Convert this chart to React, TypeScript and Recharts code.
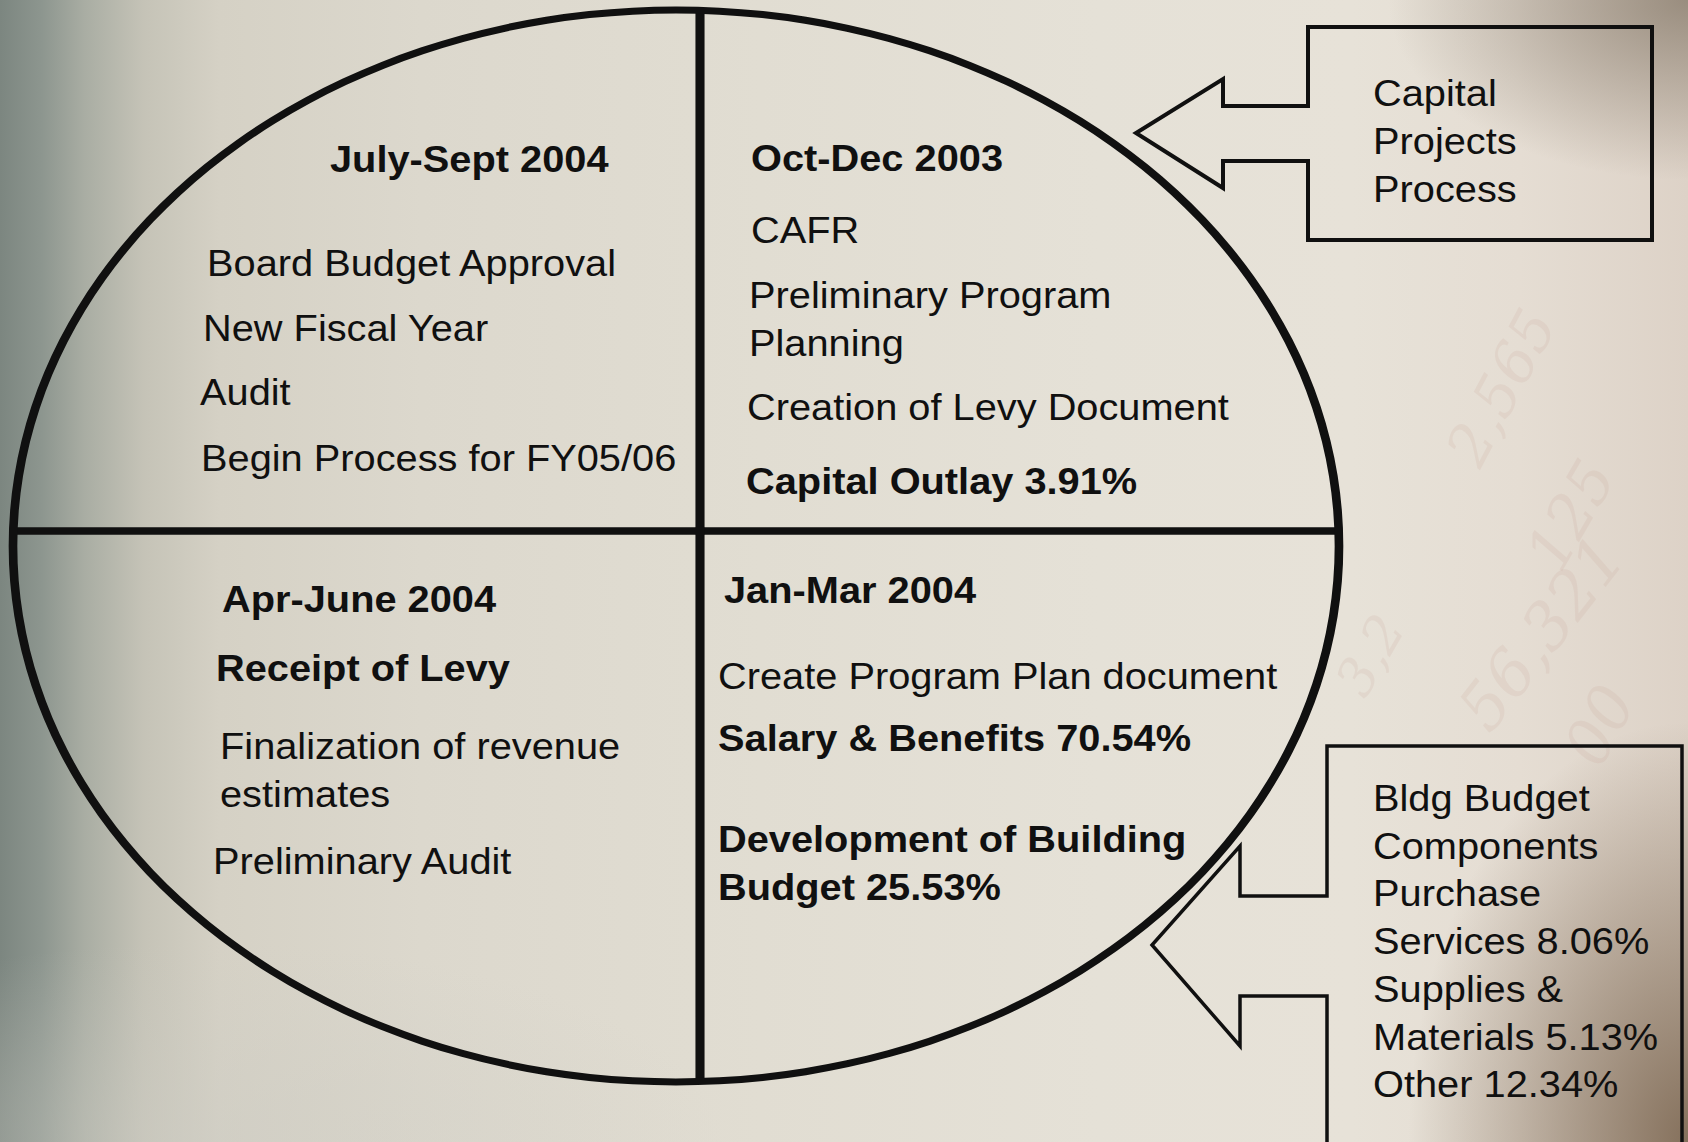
import React from 'react';
import { PieChart, Pie, Cell } from 'recharts';

// the fiscal cycle, clockwise from the top right quadrant
const QUARTERS = ['Oct-Dec 2003', 'Jan-Mar 2004', 'Apr-June 2004', 'July-Sept 2004'];
const QUARTER_MONTHS = [3, 3, 3, 3];

const OCT_DEC_ITEMS = ['CAFR', 'Preliminary Program', 'Planning', 'Creation of Levy Document'];
const OCT_DEC_SHARE = 'Capital Outlay 3.91%';
const JAN_MAR_ITEMS = ['Create Program Plan document'];
const JAN_MAR_SHARES = ['Salary & Benefits 70.54%', 'Development of Building', 'Budget 25.53%'];
const APR_JUN_BOLD = 'Receipt of Levy';
const APR_JUN_ITEMS = ['Finalization of revenue', 'estimates', 'Preliminary Audit'];
const JUL_SEP_ITEMS = ['Board Budget Approval', 'New Fiscal Year', 'Audit', 'Begin Process for FY05/06'];

const CAPITAL_CALLOUT = ['Capital', 'Projects', 'Process'];
const BLDG_CALLOUT = [
  'Bldg Budget',
  'Components',
  'Purchase',
  'Services 8.06%',
  'Supplies &',
  'Materials 5.13%',
  'Other 12.34%',
];

const BG_DIGITS = ['2,565', '125', '56,321', '3,2', '00'];

const quarterData = QUARTERS.map((name, i) => ({ name, value: QUARTER_MONTHS[i] }));
const yearData = [{ name: 'FY', value: 12 }];

const FONT = "'Liberation Sans', Arial, Helvetica, sans-serif";
const INK = '#101010';

// ellipse centre on the page and its radii; the cross sits a little off centre
const EX = 676;
const EY = 546;
const RX = 663;
const RY = 536;
const SX = RX / RY;
const BOX = 1080;
const CROSS_X = BOX / 2 + (700 - EX) / SX;
const CROSS_Y = BOX / 2 + (531 - EY);

type Line = { text: string; x: number; y: number; bold?: boolean };

const Quadrants = () => (
  <div
    style={{
      position: 'absolute',
      left: EX - BOX / 2,
      top: EY - BOX / 2,
      width: BOX,
      height: BOX,
      transform: `scaleX(${SX})`,
      transformOrigin: '50% 50%',
    }}
  >
    <PieChart width={BOX} height={BOX} margin={{ top: 0, right: 0, bottom: 0, left: 0 }}>
      <defs>
        <clipPath id="insideYear">
          <circle cx={BOX / 2} cy={BOX / 2} r={RY - 1} />
        </clipPath>
      </defs>
      <Pie
        data={quarterData}
        dataKey="value"
        nameKey="name"
        cx={CROSS_X}
        cy={CROSS_Y}
        innerRadius={0}
        outerRadius={720}
        startAngle={90}
        endAngle={-270}
        fill="transparent"
        stroke={INK}
        strokeWidth={7}
        isAnimationActive={false}
      >
        {quarterData.map((d) => (
          <Cell
            key={d.name}
            fill="transparent"
            stroke={INK}
            strokeWidth={7}
            vectorEffect="non-scaling-stroke"
            clipPath="url(#insideYear)"
          />
        ))}
      </Pie>
      <Pie
        data={yearData}
        dataKey="value"
        nameKey="name"
        cx={BOX / 2}
        cy={BOX / 2}
        innerRadius={RY - 3.5}
        outerRadius={RY + 3.5}
        startAngle={90}
        endAngle={-270}
        fill={INK}
        stroke="none"
        isAnimationActive={false}
      />
    </PieChart>
  </div>
);

const Txt = ({ l, size = 37 }: { l: Line; size?: number }) => (
  <text
    transform={`translate(${l.x} ${l.y}) scale(1.075 1)`}
    fontFamily={FONT}
    fontSize={size}
    fontWeight={l.bold ? 700 : 400}
    fill={INK}
  >
    {l.text}
  </text>
);

export default function App() {
  const quadrantLines: Line[] = [
    { text: QUARTERS[3], x: 330, y: 172, bold: true },
    { text: JUL_SEP_ITEMS[0], x: 207, y: 276 },
    { text: JUL_SEP_ITEMS[1], x: 203, y: 341 },
    { text: JUL_SEP_ITEMS[2], x: 200, y: 405 },
    { text: JUL_SEP_ITEMS[3], x: 201, y: 471 },

    { text: QUARTERS[0], x: 751, y: 171, bold: true },
    { text: OCT_DEC_ITEMS[0], x: 751, y: 243 },
    { text: OCT_DEC_ITEMS[1], x: 749, y: 308 },
    { text: OCT_DEC_ITEMS[2], x: 749, y: 356 },
    { text: OCT_DEC_ITEMS[3], x: 747, y: 420 },
    { text: OCT_DEC_SHARE, x: 746, y: 494, bold: true },

    { text: QUARTERS[2], x: 222, y: 612, bold: true },
    { text: APR_JUN_BOLD, x: 216, y: 681 },
    { text: APR_JUN_ITEMS[0], x: 220, y: 759 },
    { text: APR_JUN_ITEMS[1], x: 220, y: 807 },
    { text: APR_JUN_ITEMS[2], x: 213, y: 874 },

    { text: QUARTERS[1], x: 724, y: 603, bold: true },
    { text: JAN_MAR_ITEMS[0], x: 718, y: 689 },
    { text: JAN_MAR_SHARES[0], x: 718, y: 751, bold: true },
    { text: JAN_MAR_SHARES[1], x: 718, y: 852, bold: true },
    { text: JAN_MAR_SHARES[2], x: 718, y: 900, bold: true },
  ];
  quadrantLines[12].bold = true;

  const digitSpots = [
    { x: 1480, y: 470, r: -62, s: 58 },
    { x: 1560, y: 575, r: -60, s: 60 },
    { x: 1490, y: 735, r: -52, s: 64 },
    { x: 1365, y: 700, r: -60, s: 52 },
    { x: 1600, y: 770, r: -62, s: 62 },
  ];

  return (
    <div
      style={{
        position: 'absolute',
        left: 0,
        top: 0,
        width: 1688,
        height: 1142,
        overflow: 'hidden',
        background: [
          'radial-gradient(ellipse 300px 180px at 100% 0%, rgba(125,112,96,0.7), rgba(125,112,96,0) 100%)',
          'radial-gradient(ellipse 280px 420px at 100% 100%, rgba(118,96,74,0.85), rgba(118,96,74,0) 100%)',
          'radial-gradient(ellipse 520px 200px at 12% 100%, rgba(205,204,196,0.5), rgba(205,204,196,0) 100%)',
          'linear-gradient(90deg, #7c8680 0%, #8d968f 2.5%, #a9ada3 5%, #c5c3b7 8.5%, #d5d1c5 13%, #dcd8cd 25%, #e1ddd2 45%, #e5e1d7 65%, #e7e2d8 80%, #e5ddd3 90%, #ddd2c7 100%)',
        ].join(', '),
      }}
    >
      <svg width={1688} height={1142} style={{ position: 'absolute', left: 0, top: 0 }}>
        {BG_DIGITS.map((d, i) => (
          <text
            key={d + i}
            transform={`translate(${digitSpots[i].x} ${digitSpots[i].y}) rotate(${digitSpots[i].r})`}
            fontFamily="'DejaVu Serif', serif"
            fontStyle="italic"
            fontSize={digitSpots[i].s}
            fill="#c49a8e"
            opacity={0.14}
          >
            {d}
          </text>
        ))}
      </svg>

      <Quadrants />

      <svg width={1688} height={1142} style={{ position: 'absolute', left: 0, top: 0 }}>
        {quadrantLines.map((l) => (
          <Txt key={l.text} l={l} />
        ))}

        <polygon
          points="1308,27 1652,27 1652,240 1308,240 1308,161 1223,161 1223,188 1136,133 1223,79 1223,106 1308,106"
          fill="none"
          stroke={INK}
          strokeWidth={4}
        />
        {CAPITAL_CALLOUT.map((t, i) => (
          <Txt key={t} l={{ text: t, x: 1373, y: 106 + i * 48 }} />
        ))}

        <polygon
          points="1327,746 1682,746 1682,1180 1327,1180 1327,996 1240,996 1240,1046 1152,945 1240,846 1240,896 1327,896"
          fill="none"
          stroke={INK}
          strokeWidth={3.5}
        />
        {BLDG_CALLOUT.map((t, i) => (
          <Txt key={t} l={{ text: t, x: 1373, y: 811 + i * 47.7 }} />
        ))}
      </svg>
    </div>
  );
}
